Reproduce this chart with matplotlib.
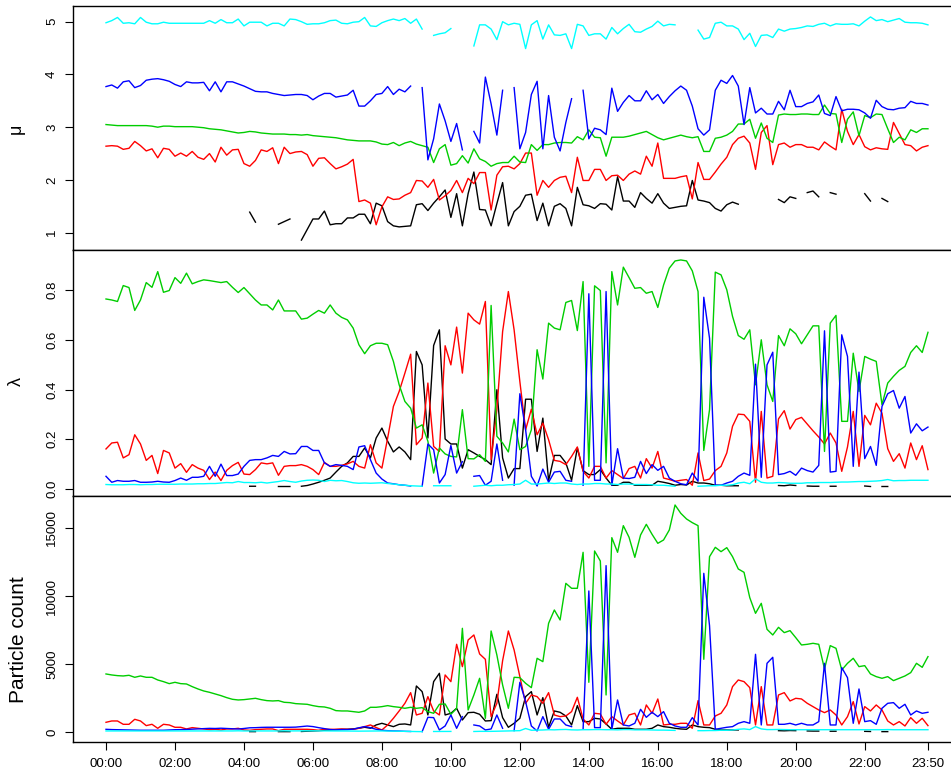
import numpy as np
import matplotlib
matplotlib.use("Agg")
import matplotlib.pyplot as plt

plt.rcParams['font.family'] = ['Liberation Sans', 'DejaVu Sans']

nan = np.nan

# 10-minute steps over one day
times = np.arange(144)
tick_pos = [0, 12, 24, 36, 48, 60, 72, 84, 96, 108, 120, 132, 143]
tick_labels = ["00:00", "02:00", "04:00", "06:00", "08:00", "10:00", "12:00",
               "14:00", "16:00", "18:00", "20:00", "22:00", "23:50"]

# --- mu ---
mu_cyan = [4.98, 5.02, 5.08, 4.97, 4.98, 4.96, 5.08, 4.99, 4.96, 4.96, 4.99, 4.97,
           4.97, 4.97, 4.97, 4.97, 4.97, 4.97, 5.02, 4.97, 5.04, 4.98, 4.98, 5.05,
           4.92, 4.99, 4.99, 4.99, 4.92, 4.97, 4.97, 4.92, 5.05, 5.04, 5.00, 4.95,
           4.96, 4.96, 4.98, 5.02, 5.03, 4.97, 4.96, 4.99, 5.00, 5.08, 4.92, 4.91,
           4.98, 5.02, 5.05, 5.02, 5.06, 4.97, 5.05, 4.86, nan, 4.74, 4.77, 4.79,
           4.87, nan, nan, nan, 4.54, 4.94, 4.94, 4.86, 4.66, 5.00, 4.94, 4.97,
           4.95, 4.49, 4.94, 5.02, 4.67, 4.94, 4.75, 4.74, 4.77, 4.49, 4.95, 4.92,
           4.74, 4.77, 4.77, 4.67, 4.89, 4.77, 4.87, 4.95, 4.81, 4.80, 4.86, 4.91,
           5.01, 4.92, 4.95, 4.94, nan, nan, nan, 4.84, 4.67, 4.70, 4.97, 4.99,
           4.92, 4.92, 4.86, 4.66, 4.78, 4.53, 4.74, 4.75, 4.70, 4.86, 4.82, 4.86,
           4.87, 4.89, 4.92, 4.91, 4.95, 4.97, 4.92, 4.96, 4.95, 4.95, 4.96, 4.92,
           5.01, 5.09, 5.02, 5.04, 5.00, 5.03, 5.06, 4.99, 4.98, 4.98, 4.97, 4.94]
mu_blue = [3.77, 3.80, 3.74, 3.86, 3.88, 3.75, 3.79, 3.89, 3.91, 3.92, 3.90, 3.87,
           3.81, 3.77, 3.86, 3.84, 3.84, 3.85, 3.69, 3.86, 3.67, 3.86, 3.86, 3.82,
           3.78, 3.73, 3.68, 3.67, 3.67, 3.64, 3.62, 3.60, 3.61, 3.62, 3.62, 3.60,
           3.52, 3.59, 3.64, 3.64, 3.57, 3.59, 3.61, 3.70, 3.40, 3.40, 3.50, 3.62,
           3.64, 3.77, 3.62, 3.72, 3.67, 3.78, nan, 3.75, 2.38, 2.78, 3.44, 3.12,
           2.73, 3.07, 2.57, nan, 2.92, 2.70, 3.95, 3.44, 2.85, 3.70, nan, 3.75,
           2.59, 2.90, 3.62, 3.87, 2.59, 3.60, 2.81, 2.55, 3.09, 3.54, nan, 3.70,
           2.78, 2.98, 2.95, 2.86, 3.74, 3.30, 3.47, 3.60, 3.50, 3.50, 3.69, 3.52,
           3.62, 3.45, 3.58, 3.69, 3.78, 3.70, 3.40, 2.97, 2.85, 2.95, 3.70, 3.89,
           3.83, 3.98, 3.78, 3.05, 3.75, 3.27, 3.36, 3.25, 3.25, 3.49, 3.33, 3.70,
           3.39, 3.39, 3.45, 3.48, 3.61, 3.26, 3.22, 3.58, 3.31, 3.34, 3.34, 3.33,
           3.27, 3.17, 3.51, 3.39, 3.34, 3.33, 3.36, 3.37, 3.49, 3.45, 3.45, 3.42]
mu_green = [3.05, 3.04, 3.03, 3.03, 3.03, 3.03, 3.03, 3.03, 3.02, 3.00, 3.02, 3.02,
            3.01, 3.01, 3.01, 3.01, 3.00, 2.99, 2.97, 2.96, 2.95, 2.93, 2.91, 2.89,
            2.90, 2.92, 2.91, 2.89, 2.88, 2.87, 2.87, 2.87, 2.86, 2.86, 2.85, 2.86,
            2.84, 2.83, 2.82, 2.81, 2.80, 2.78, 2.76, 2.75, 2.74, 2.74, 2.74, 2.72,
            2.68, 2.67, 2.71, 2.65, 2.70, 2.73, 2.68, 2.65, 2.62, 2.33, 2.59, 2.67,
            2.28, 2.31, 2.46, 2.32, 2.59, 2.40, 2.35, 2.26, 2.31, 2.33, 2.33, 2.45,
            2.34, 2.33, 2.67, 2.56, 2.67, 2.67, 2.70, 2.71, 2.71, 2.70, 2.82, 2.76,
            2.95, 2.81, 2.80, 2.45, 2.81, 2.81, 2.81, 2.83, 2.86, 2.89, 2.92, 2.86,
            2.80, 2.76, 2.79, 2.82, 2.85, 2.82, 2.80, 2.82, 2.54, 2.54, 2.79, 2.81,
            2.85, 2.92, 3.06, 3.06, 3.15, 2.79, 3.08, 2.79, 2.71, 3.23, 3.25, 3.24,
            3.24, 3.25, 3.25, 3.24, 3.24, 3.42, 3.26, 3.25, 2.71, 3.15, 3.29, 2.84,
            3.22, 3.18, 3.25, 3.24, 2.97, 2.71, 2.81, 2.76, 2.95, 2.90, 2.97, 2.97]
mu_red = [2.64, 2.65, 2.64, 2.58, 2.60, 2.73, 2.65, 2.55, 2.59, 2.42, 2.60, 2.58,
          2.45, 2.51, 2.45, 2.54, 2.43, 2.39, 2.50, 2.34, 2.62, 2.47, 2.57, 2.58,
          2.31, 2.26, 2.37, 2.57, 2.54, 2.61, 2.31, 2.62, 2.50, 2.53, 2.54, 2.48,
          2.26, 2.41, 2.42, 2.31, 2.21, 2.25, 2.30, 2.39, 1.59, 1.62, 1.56, 1.15,
          1.49, 1.68, 1.63, 1.64, 1.71, 1.76, 1.99, 1.98, 1.86, 2.01, 1.62, 1.70,
          1.80, 1.99, 1.76, 2.03, 1.93, 2.14, 2.14, 1.43, 2.09, 2.25, 2.26, 2.21,
          2.31, 2.51, 2.51, 1.71, 1.99, 1.86, 1.99, 2.05, 2.07, 1.76, 2.43, 1.99,
          1.99, 2.20, 2.20, 1.99, 2.08, 2.09, 1.99, 2.11, 2.17, 2.11, 2.45, 2.26,
          2.70, 2.03, 2.03, 2.03, 2.06, 2.08, 1.64, 2.33, 2.01, 2.01, 2.15, 2.30,
          2.43, 2.67, 2.79, 2.83, 2.70, 2.20, 2.90, 3.03, 2.29, 2.67, 2.70, 2.62,
          2.67, 2.67, 2.62, 2.62, 2.57, 2.72, 2.64, 2.57, 3.34, 2.92, 2.67, 2.86,
          2.63, 2.57, 2.61, 2.59, 2.58, 3.09, 2.88, 2.67, 2.65, 2.55, 2.62, 2.65]
mu_black = [nan] * 24 + [
            nan, 1.39, 1.20, nan, nan, nan, 1.16, 1.21, 1.26, nan, 0.86, 1.06,
            1.26, 1.26, 1.41, 1.15, 1.17, 1.17, 1.28, 1.28, 1.35, 1.35, 1.17, 1.56,
            1.51, 1.21, 1.13, 1.11, 1.12, 1.13, 1.53, 1.55, 1.42, 1.56, 1.68, 1.81,
            1.29, 1.74, 1.13, 1.74, 2.15, 1.44, 1.43, 1.13, 1.55, 1.95, 1.13, 1.40,
            1.50, 1.71, 1.73, 1.23, 1.56, 1.13, 1.50, 1.55, 1.46, 1.13, 1.86, 1.53,
            1.51, 1.46, 1.55, 1.54, 1.43, 2.06, 1.60, 1.60, 1.48, 1.76, 1.65, 1.56,
            1.74, 1.56, 1.46, 1.48, 1.50, 1.51, 1.99, 1.62, 1.60, 1.57, 1.46, 1.41,
            1.53, 1.58, 1.54, nan, nan, nan, nan, nan, nan, 1.63, 1.57, 1.68,
            1.65, nan, 1.76, 1.79, 1.68, nan, 1.76, 1.73, nan, nan, nan, nan,
            1.74, 1.60, nan, 1.65, 1.59, nan, nan, nan, nan, nan, nan, nan]

# --- lambda ---
lam_cyan = [0.018, 0.017, 0.017, 0.017, 0.018, 0.018, 0.017, 0.018, 0.018, 0.019, 0.019, 0.019,
            0.019, 0.020, 0.020, 0.020, 0.021, 0.021, 0.022, 0.022, 0.024, 0.026, 0.025, 0.030,
            0.026, 0.026, 0.025, 0.027, 0.024, 0.027, 0.030, 0.034, 0.030, 0.027, 0.032, 0.035,
            0.036, 0.035, 0.030, 0.035, 0.033, 0.034, 0.030, 0.025, 0.023, 0.024, 0.023, 0.024,
            0.025, 0.022, 0.020, 0.017, 0.015, 0.013, 0.012, 0.011, nan, 0.013, 0.013, 0.013,
            0.013, nan, nan, nan, 0.011, 0.013, 0.015, 0.013, 0.015, 0.015, 0.017, 0.018,
            0.020, 0.035, 0.020, 0.020, 0.022, 0.024, 0.022, 0.024, 0.024, 0.020, 0.018, 0.020,
            0.020, 0.022, 0.022, 0.020, 0.020, 0.018, 0.020, 0.020, 0.018, 0.018, 0.018, 0.017,
            0.015, 0.015, 0.013, 0.011, nan, nan, nan, 0.011, 0.012, 0.013, 0.013, 0.015,
            0.015, 0.017, 0.024, 0.027, 0.021, 0.041, 0.027, 0.024, 0.024, 0.026, 0.025, 0.023,
            0.023, 0.023, 0.025, 0.025, 0.026, 0.026, 0.026, 0.027, 0.028, 0.028, 0.029, 0.030,
            0.030, 0.031, 0.032, 0.034, 0.038, 0.033, 0.034, 0.034, 0.035, 0.035, 0.035, 0.035]
lam_blue = [0.051, 0.027, 0.034, 0.031, 0.031, 0.034, 0.027, 0.027, 0.028, 0.031, 0.028, 0.027,
            0.034, 0.044, 0.035, 0.047, 0.047, 0.051, 0.091, 0.051, 0.100, 0.054, 0.054, 0.060,
            0.091, 0.115, 0.118, 0.118, 0.125, 0.135, 0.131, 0.151, 0.141, 0.142, 0.171, 0.171,
            0.155, 0.155, 0.105, 0.091, 0.098, 0.095, 0.091, 0.078, 0.169, 0.174, 0.118, 0.064,
            0.040, 0.024, 0.021, 0.017, 0.015, 0.012, nan, 0.011, 0.181, 0.158, 0.024, 0.058,
            0.175, 0.064, 0.110, nan, 0.051, 0.054, 0.015, 0.031, 0.181, 0.035, nan, 0.015,
            0.383, 0.238, 0.051, 0.012, 0.080, 0.027, 0.068, 0.071, 0.035, 0.031, nan, 0.015,
            0.785, 0.035, 0.035, 0.794, 0.015, 0.162, 0.044, 0.042, 0.047, 0.111, 0.062, 0.098,
            0.075, 0.091, 0.044, 0.031, 0.021, 0.017, 0.064, 0.031, 0.771, 0.606, 0.015, 0.015,
            0.024, 0.031, 0.051, 0.064, 0.055, 0.502, 0.047, 0.499, 0.550, 0.058, 0.062, 0.071,
            0.055, 0.084, 0.074, 0.068, 0.095, 0.636, 0.068, 0.071, 0.620, 0.533, 0.091, 0.470,
            0.122, 0.171, 0.095, 0.332, 0.383, 0.396, 0.325, 0.372, 0.225, 0.262, 0.234, 0.249]
lam_green = [0.764, 0.760, 0.754, 0.818, 0.810, 0.718, 0.760, 0.830, 0.811, 0.874, 0.791, 0.798,
             0.850, 0.827, 0.868, 0.825, 0.834, 0.841, 0.838, 0.834, 0.830, 0.834, 0.811, 0.790,
             0.810, 0.785, 0.760, 0.740, 0.740, 0.720, 0.760, 0.716, 0.716, 0.716, 0.683, 0.687,
             0.703, 0.718, 0.707, 0.740, 0.707, 0.690, 0.680, 0.647, 0.580, 0.544, 0.576, 0.586,
             0.586, 0.580, 0.513, 0.419, 0.352, 0.325, 0.245, 0.258, 0.192, 0.064, 0.165, 0.141,
             0.131, 0.129, 0.319, 0.122, 0.121, 0.138, 0.111, 0.738, 0.212, 0.185, 0.149, 0.281,
             0.158, 0.171, 0.238, 0.560, 0.442, 0.667, 0.647, 0.640, 0.750, 0.758, 0.637, 0.834,
             0.091, 0.817, 0.798, 0.105, 0.874, 0.740, 0.892, 0.850, 0.807, 0.810, 0.787, 0.794,
             0.730, 0.820, 0.888, 0.917, 0.921, 0.917, 0.877, 0.794, 0.155, 0.319, 0.872, 0.861,
             0.801, 0.694, 0.617, 0.602, 0.640, 0.419, 0.600, 0.419, 0.352, 0.617, 0.576, 0.644,
             0.624, 0.584, 0.620, 0.656, 0.656, 0.151, 0.667, 0.698, 0.272, 0.272, 0.546, 0.392,
             0.533, 0.522, 0.513, 0.339, 0.426, 0.453, 0.477, 0.493, 0.549, 0.576, 0.549, 0.630]
lam_red = [0.161, 0.185, 0.188, 0.125, 0.138, 0.218, 0.181, 0.115, 0.135, 0.062, 0.155, 0.145,
           0.084, 0.102, 0.067, 0.098, 0.084, 0.075, 0.038, 0.068, 0.034, 0.075, 0.094, 0.107,
           0.060, 0.058, 0.078, 0.105, 0.101, 0.105, 0.055, 0.091, 0.094, 0.094, 0.098, 0.091,
           0.078, 0.058, 0.107, 0.091, 0.091, 0.095, 0.101, 0.111, 0.091, 0.084, 0.178, 0.105,
           0.084, 0.205, 0.332, 0.392, 0.466, 0.542, 0.178, 0.205, 0.426, 0.171, 0.151, 0.576,
           0.499, 0.651, 0.466, 0.707, 0.680, 0.663, 0.754, 0.118, 0.319, 0.633, 0.794, 0.640,
           0.432, 0.238, 0.321, 0.218, 0.265, 0.198, 0.115, 0.111, 0.098, 0.131, 0.169, 0.071,
           0.044, 0.091, 0.091, 0.044, 0.074, 0.058, 0.042, 0.082, 0.091, 0.044, 0.122, 0.084,
           0.151, 0.044, 0.038, 0.031, 0.035, 0.038, 0.015, 0.145, 0.034, 0.040, 0.074, 0.091,
           0.145, 0.252, 0.301, 0.299, 0.272, 0.027, 0.312, 0.044, 0.051, 0.282, 0.315, 0.241,
           0.279, 0.288, 0.261, 0.234, 0.209, 0.181, 0.225, 0.185, 0.071, 0.169, 0.312, 0.091,
           0.296, 0.258, 0.345, 0.305, 0.162, 0.111, 0.142, 0.084, 0.185, 0.118, 0.174, 0.078]
lam_black = [nan] * 24 + [
             nan, 0.011, 0.011, nan, nan, nan, 0.010, 0.010, 0.010, nan, 0.011, 0.014,
             0.020, 0.027, 0.035, 0.044, 0.068, 0.091, 0.105, 0.131, 0.131, 0.165, 0.125, 0.205,
             0.245, 0.192, 0.149, 0.169, 0.149, 0.118, 0.553, 0.499, 0.205, 0.577, 0.640, 0.201,
             0.181, 0.181, 0.084, 0.158, 0.145, 0.131, 0.118, 0.098, 0.399, 0.125, 0.044, 0.082,
             0.082, 0.361, 0.361, 0.151, 0.285, 0.034, 0.135, 0.135, 0.105, 0.035, 0.165, 0.074,
             0.058, 0.058, 0.078, 0.044, 0.015, 0.015, 0.027, 0.027, 0.015, 0.015, 0.015, 0.015,
             0.031, 0.027, 0.022, 0.015, 0.018, 0.016, 0.031, 0.024, 0.024, 0.021, 0.015, 0.015,
             0.013, 0.013, 0.013, nan, nan, nan, nan, nan, nan, 0.014, 0.013, 0.016,
             0.014, nan, 0.012, 0.011, 0.011, nan, 0.011, 0.011, nan, nan, nan, nan,
             0.012, 0.010, nan, 0.010, 0.010, nan, nan, nan, nan, nan, nan, nan]

# --- particle count ---
cnt_cyan = [100, 100, 100, 95, 95, 95, 95, 95, 95, 95, 95, 95,
            95, 95, 95, 95, 95, 95, 95, 95, 100, 100, 100, 110,
            100, 100, 100, 100, 95, 100, 100, 110, 100, 100, 105, 110,
            110, 105, 95, 100, 100, 100, 95, 90, 85, 90, 95, 95,
            100, 95, 90, 80, 70, 60, 55, 50, nan, 60, 60, 65,
            65, nan, nan, nan, 60, 70, 70, 70, 80, 90, 100, 110,
            120, 280, 150, 160, 170, 190, 180, 200, 210, 180, 170, 190,
            190, 200, 200, 190, 190, 180, 200, 200, 180, 180, 180, 170,
            160, 160, 150, 140, nan, nan, nan, 120, 120, 130, 130, 150,
            150, 170, 220, 250, 200, 420, 250, 200, 200, 210, 200, 190,
            190, 190, 190, 190, 190, 190, 190, 190, 190, 190, 190, 190,
            190, 190, 190, 190, 200, 190, 190, 190, 190, 190, 190, 190]
cnt_blue = [220, 200, 190, 180, 170, 160, 150, 150, 150, 150, 150, 170,
            190, 200, 210, 230, 250, 270, 290, 280, 300, 280, 260, 240,
            280, 330, 340, 360, 370, 370, 370, 370, 370, 380, 420, 460,
            420, 340, 270, 200, 180, 200, 200, 230, 330, 420, 340, 220,
            150, 120, 100, 90, 70, 60, nan, 49, 1101, 1077, 172, 465,
            1273, 294, 1150, nan, 539, 465, 172, 245, 1273, 294, nan, 123,
            3671, 2252, 465, 98, 1150, 221, 979, 979, 539, 416, nan, 221,
            10376, 343, 343, 12236, 221, 2374, 539, 465, 661, 1689, 1101, 1469,
            1150, 1518, 661, 465, 368, 368, 1077, 539, 11672, 7831, 221, 294,
            368, 416, 661, 783, 661, 5726, 539, 5066, 5506, 587, 587, 661,
            539, 661, 539, 539, 783, 5066, 539, 539, 4747, 4013, 661, 3181,
            783, 856, 587, 1762, 2129, 2178, 1762, 2056, 1273, 1567, 1395, 1469]
cnt_green = [4283, 4210, 4160, 4136, 4185, 4038, 4136, 4038, 4038, 3842, 3720, 3573,
             3671, 3573, 3548, 3353, 3182, 3035, 2937, 2815, 2692, 2545, 2423, 2374,
             2398, 2447, 2496, 2398, 2325, 2301, 2325, 2203, 2178, 2105, 2080, 2056,
             1958, 1885, 1860, 1762, 1591, 1567, 1567, 1518, 1469, 1567, 1836, 1836,
             1885, 1958, 1885, 1836, 1762, 1836, 1762, 1811, 1518, 1395, 2056, 2080,
             1322, 1762, 7635, 1640, 2741, 3965, 1028, 7439, 5677, 3475, 1762, 4038,
             4013, 3597, 3279, 5433, 5188, 8002, 8981, 8247, 10938, 10572, 10572, 13214,
             3671, 13312, 12578, 2741, 14291, 13214, 15172, 14315, 12847, 14487, 15270, 14536,
             13875, 14120, 14854, 16689, 16077, 15661, 15392, 15172, 5359, 12896, 13581, 13263,
             13557, 12896, 11991, 11746, 9886, 8736, 9470, 7562, 7146, 7708, 7317, 7464,
             6950, 6412, 6461, 6534, 6461, 4649, 6363, 6167, 4576, 5066, 5433, 4821,
             4894, 4283, 4087, 3965, 4087, 3794, 3965, 4136, 4381, 5066, 4772, 5555]
cnt_red = [734, 832, 832, 587, 587, 954, 832, 490, 587, 294, 587, 539,
           368, 368, 245, 343, 294, 245, 196, 221, 172, 245, 245, 294,
           172, 147, 196, 221, 245, 245, 123, 221, 221, 221, 221, 221,
           196, 147, 221, 221, 221, 245, 221, 221, 294, 416, 539, 350,
           172, 539, 1028, 1567, 2129, 2912, 1273, 1395, 2619, 1567, 1273, 4210,
           3720, 6461, 4821, 6779, 7146, 5751, 5359, 1150, 2129, 5261, 7439, 6045,
           4087, 2129, 2741, 2619, 2129, 2912, 1273, 1150, 1199, 1518, 2570, 979,
           539, 1395, 1346, 587, 1150, 832, 539, 1273, 1395, 539, 2007, 1395,
           2447, 539, 587, 587, 661, 661, 294, 2325, 539, 539, 1199, 1395,
           2007, 3353, 3842, 3720, 3279, 539, 3353, 539, 539, 2741, 2912, 2301,
           2496, 2447, 2129, 1885, 1640, 1444, 1640, 1273, 539, 1150, 2252, 612,
           1885, 1567, 2007, 1640, 832, 539, 783, 465, 1077, 661, 1028, 490]
cnt_black = [nan] * 24 + [
             nan, 50, 50, nan, nan, nan, 50, 50, 50, nan, 60, 80,
             100, 120, 150, 170, 200, 210, 220, 250, 300, 370, 300, 540,
             661, 539, 416, 587, 612, 539, 3401, 2986, 1273, 3720, 4332, 1273,
             1395, 1762, 906, 1444, 1469, 1322, 832, 856, 2790, 1077, 368, 661,
             1028, 2619, 2986, 1273, 2545, 368, 1567, 1469, 1199, 539, 1958, 783,
             783, 1028, 979, 612, 221, 294, 294, 294, 221, 221, 221, 294,
             539, 416, 368, 294, 245, 221, 539, 416, 368, 343, 221, 172,
             172, 172, 172, nan, nan, nan, nan, nan, nan, 120, 110, 130,
             120, nan, 100, 90, 90, nan, 80, 80, nan, nan, nan, nan,
             70, 60, nan, 50, 50, nan, nan, nan, nan, nan, nan, nan]

col_black, col_red, col_green, col_blue, col_cyan = "#000000", "#FF0000", "#00CD00", "#0000FF", "#00FFFF"

W, H = 951, 772
fig = plt.figure(figsize=(W / 100, H / 100), dpi=100)

# panel boxes in pixels (top, bottom); right edge lies past the image like the original
left_px, right_px = 72.7, 961.0
panels = [(5.7, 250.0), (250.0, 495.7), (495.7, 741.7)]
xlim = ((left_px - 106) / 5.748, (right_px - 106) / 5.748)

def make_ax(top, bottom):
    return fig.add_axes([left_px / W, 1 - bottom / H, (right_px - left_px) / W, (bottom - top) / H])

def draw(ax, series, ylim, yticks, yticklabels):
    for values, col in series:
        ax.plot(times, values, color=col, lw=1.0)
    ax.set_xlim(*xlim)
    ax.set_ylim(*ylim)
    ax.set_yticks(yticks)
    ax.set_yticklabels(yticklabels)
    ax.tick_params(axis='y', direction='out', length=5.5, width=0.8, labelsize=9.5,
                   pad=5, labelrotation=90)
    for lbl in ax.get_yticklabels():
        lbl.set_va('center')
    for sp in ax.spines.values():
        sp.set_linewidth(1.0)

ax1 = make_ax(*panels[0])
draw(ax1, [(mu_black, col_black), (mu_red, col_red), (mu_green, col_green),
           (mu_blue, col_blue), (mu_cyan, col_cyan)],
     (0.672, 5.303), [1, 2, 3, 4, 5], ["1", "2", "3", "4", "5"])
ax1.set_xticks([])

ax2 = make_ax(*panels[1])
draw(ax2, [(lam_black, col_black), (lam_red, col_red), (lam_green, col_green),
           (lam_blue, col_blue), (lam_cyan, col_cyan)],
     (-0.027, 0.961), [0.0, 0.2, 0.4, 0.6, 0.8], ["0.0", "0.2", "0.4", "0.6", "0.8"])
ax2.set_xticks([])

ax3 = make_ax(*panels[2])
draw(ax3, [(cnt_black, col_black), (cnt_red, col_red), (cnt_green, col_green),
           (cnt_blue, col_blue), (cnt_cyan, col_cyan)],
     (-690, 17371), [0, 5000, 10000, 15000], ["0", "5000", "10000", "15000"])
ax3.set_xticks(tick_pos)
ax3.set_xticklabels(tick_labels)
ax3.tick_params(axis='x', direction='out', length=5.5, width=0.8, labelsize=9.5, pad=6)

fig.text(16 / W, 1 - 129 / H, "μ", rotation=90, ha='center', va='center', fontsize=13)
fig.text(16 / W, 1 - 382 / H, "λ", rotation=90, ha='center', va='center', fontsize=13)
fig.text(19 / W, 1 - 640 / H, "Particle count", rotation=90, ha='center', va='center', fontsize=15)

fig.savefig("out.png", dpi=100)
